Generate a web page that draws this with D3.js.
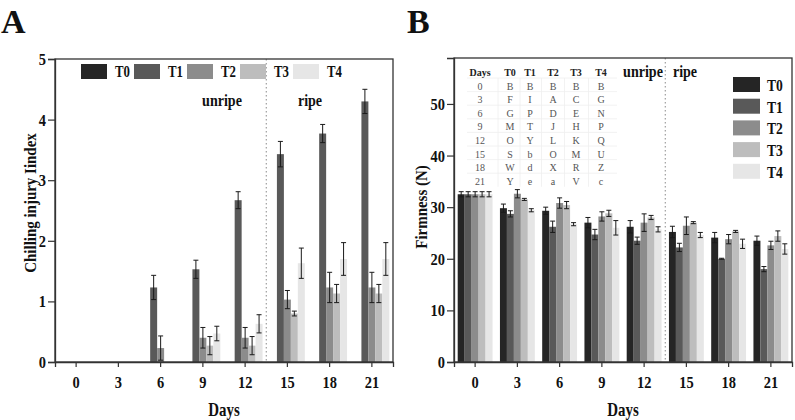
<!doctype html>
<html>
<head>
<style>
	body { margin: 0; background: #fff; }
	text { font-family: "Liberation Serif", "Times New Roman", serif; }
</style>
</head>
<body>
	<div class="figure"></div>
	<script src="https://cdn.jsdelivr.net/npm/d3@7"></script>
	<script>
		// categories
		let days = ["0", "3", "6", "9", "12", "15", "18", "21"];
		let treatments = ["T0", "T1", "T2", "T3", "T4"];
		let colors = ["#252525", "#595959", "#8c8c8c", "#bdbdbd", "#e6e6e6"];

		// A: chilling injury index, means and errors
		let ciT0 = [0, 0, 0, 0, 0, 0, 0, 0];
		let ciT1 = [0, 0, 1.23, 1.53, 2.67, 3.43, 3.77, 4.30];
		let ciT2 = [0, 0, 0.23, 0.40, 0.40, 1.03, 1.23, 1.23];
		let ciT3 = [0, 0, 0, 0.27, 0.27, 0.80, 1.13, 1.13];
		let ciT4 = [0, 0, 0, 0.47, 0.63, 1.63, 1.70, 1.70];
		let ciErrT0 = [0, 0, 0, 0, 0, 0, 0, 0];
		let ciErrT1 = [0, 0, 0.20, 0.15, 0.14, 0.21, 0.15, 0.20];
		let ciErrT2 = [0, 0, 0.20, 0.17, 0.17, 0.15, 0.25, 0.25];
		let ciErrT3 = [0, 0, 0, 0.15, 0.15, 0.04, 0.15, 0.15];
		let ciErrT4 = [0, 0, 0, 0.12, 0.15, 0.25, 0.27, 0.27];
		let ciTicks = [0, 1, 2, 3, 4, 5];

		// B: firmness (N), means and errors
		let fT0 = [32.5, 29.8, 29.3, 27.0, 26.2, 25.2, 24.1, 23.5];
		let fT1 = [32.5, 28.7, 26.2, 24.7, 23.5, 22.2, 20.0, 18.0];
		let fT2 = [32.5, 32.6, 30.8, 28.2, 27.0, 26.4, 23.8, 22.6];
		let fT3 = [32.5, 31.5, 30.4, 28.8, 28.0, 27.0, 25.3, 24.4];
		let fT4 = [32.5, 29.4, 26.7, 26.0, 25.7, 24.6, 22.9, 21.9];
		let fErrT0 = [0.5, 0.8, 0.7, 1.0, 1.2, 1.1, 1.0, 0.9];
		let fErrT1 = [0.5, 0.6, 1.1, 1.0, 0.7, 0.8, 0.1, 0.5];
		let fErrT2 = [0.5, 0.8, 1.0, 0.9, 1.7, 1.7, 0.9, 0.8];
		let fErrT3 = [0.5, 0.2, 0.7, 0.6, 0.4, 0.2, 0.2, 1.0];
		let fErrT4 = [0.5, 0.3, 0.3, 1.4, 0.5, 0.5, 0.9, 1.0];
		let fTicks = [0, 10, 20, 30, 40, 50];

		// significance letters table in B
		let tableHeader = ["Days", "T0", "T1", "T2", "T3", "T4"];
		let tableRows = [
			["0", "B", "B", "B", "B", "B"],
			["3", "F", "I", "A", "C", "G"],
			["6", "G", "P", "D", "E", "N"],
			["9", "M", "T", "J", "H", "P"],
			["12", "O", "Y", "L", "K", "Q"],
			["15", "S", "b", "O", "M", "U"],
			["18", "W", "d", "X", "R", "Z"],
			["21", "Y", "e", "a", "V", "c"]
		];

		let svg = d3.select(".figure")
			.append("svg")
			.attr("width", 795)
			.attr("height", 420);

		// bold, horizontally squeezed text (the original font is a narrow Times)
		function label(g, x, y, txt, size, sx, anchor, rot) {
			return g.append("text")
				.attr("transform", `translate(${x},${y}) rotate(${rot || 0}) scale(${sx},1)`)
				.attr("text-anchor", anchor || "start")
				.style("font-weight", "bold").style("font-size", size + "px")
				.attr("fill", "#111")
				.text(txt);
		}

		function panel(opt) {
			let x = d3.scaleBand().domain(days).range([opt.left, opt.right]);
			let sub = d3.scaleBand().domain(treatments)
				.range([0, x.bandwidth()]).paddingOuter(0.53).paddingInner(0);
			let y = d3.scaleLinear().domain(opt.yDomain).range([opt.bottom, opt.top]);
			let g = svg.append("g");

			// dotted line between unripe and ripe
			let xs = x("15");
			g.append("line")
				.attr("x1", xs).attr("x2", xs)
				.attr("y1", opt.top).attr("y2", opt.bottom)
				.attr("stroke", "#8a8a8a").attr("stroke-width", 1)
				.attr("stroke-dasharray", "1.5,2.5");

			// bars
			opt.means.forEach((vals, k) => {
				let t = treatments[k];
				g.append("g").selectAll("rect")
					.data(vals.map((v, i) => ({ day: days[i], v: v })))
					.join("rect")
					.attr("x", d => x(d.day) + sub(t))
					.attr("width", sub.bandwidth())
					.attr("y", d => y(d.v))
					.attr("height", d => y(0) - y(d.v))
					.attr("fill", colors[k]);
			});

			// error bars
			opt.means.forEach((vals, k) => {
				let t = treatments[k];
				let errs = opt.errs[k];
				let data = vals.map((v, i) => ({ day: days[i], v: v, e: errs[i] })).filter(d => d.e > 0);
				let eg = g.append("g").attr("stroke", "#1a1a1a").attr("stroke-width", 1);
				let cx = d => x(d.day) + sub(t) + sub.bandwidth() / 2;
				eg.selectAll(".v").data(data).join("line")
					.attr("x1", cx).attr("x2", cx)
					.attr("y1", d => y(d.v - d.e)).attr("y2", d => y(d.v + d.e));
				eg.selectAll(".t").data(data).join("line")
					.attr("x1", d => cx(d) - 2.5).attr("x2", d => cx(d) + 2.5)
					.attr("y1", d => y(d.v + d.e)).attr("y2", d => y(d.v + d.e));
				eg.selectAll(".b").data(data).join("line")
					.attr("x1", d => cx(d) - 2.5).attr("x2", d => cx(d) + 2.5)
					.attr("y1", d => y(d.v - d.e)).attr("y2", d => y(d.v - d.e));
			});

			// frame
			g.append("rect")
				.attr("x", opt.left).attr("y", opt.top)
				.attr("width", opt.right - opt.left).attr("height", opt.bottom - opt.top)
				.attr("fill", "none").attr("stroke", "#333").attr("stroke-width", 1.3);

			// axes
			let xAxis = g.append("g")
				.attr("transform", `translate(0,${opt.bottom})`)
				.call(d3.axisBottom(x).tickSizeOuter(0).tickSize(5).tickPadding(9));
			let yAxis = g.append("g")
				.attr("transform", `translate(${opt.left},0)`)
				.call(d3.axisLeft(y).tickValues(opt.ticks).tickFormat(d3.format("d"))
					.tickSizeOuter(0).tickSize(7).tickPadding(2));
			[xAxis, yAxis].forEach(a => {
				a.select(".domain").attr("stroke", "#333").attr("stroke-width", 1.3);
				a.selectAll(".tick line").attr("stroke", "#333").attr("stroke-width", 1.2);
				a.selectAll("text")
					.style("font-family", "'Liberation Serif', serif")
					.style("font-weight", "bold")
					.style("font-size", "17px")
					.attr("fill", "#111")
					.attr("transform", "scale(0.85,1)");
			});
			yAxis.selectAll("text").attr("x", -9 / 0.85);

			// axis titles
			label(g, (opt.left + opt.right) / 2, 416, "Days", 18, 0.83, "middle");
			label(g, opt.yLabelX, opt.yLabelY, opt.yLabel, 17, 0.88, "middle", -90);

			// panel letter
			label(g, opt.letterX, 33, opt.letter, 34, 1);

			// unripe / ripe
			label(g, opt.unripeX, opt.stageY, "unripe", 16, 0.88, "middle");
			label(g, opt.ripeX, opt.stageY, "ripe", 16, 0.88, "middle");

			return { g: g, x: x, y: y };
		}

		// ----- Panel A -----
		let A = panel({
			left: 55, right: 393, top: 59, bottom: 362,
			yDomain: [0, 5], ticks: ciTicks,
			means: [ciT0, ciT1, ciT2, ciT3, ciT4],
			errs: [ciErrT0, ciErrT1, ciErrT2, ciErrT3, ciErrT4],
			yLabel: "Chilling injury Iindex", yLabelX: 36, yLabelY: 203,
			letter: "A", letterX: 1,
			unripeX: 222, ripeX: 310, stageY: 106
		});

		// horizontal legend in A
		let legA = A.g.append("g").selectAll("g").data(treatments).join("g")
			.attr("transform", (d, i) => `translate(${81 + i * 53},64)`);
		legA.append("rect").attr("width", 26).attr("height", 15)
			.attr("fill", (d, i) => colors[i]);
		legA.each(function (d) { label(d3.select(this), 34, 13, d, 16, 0.8); });

		// ----- Panel B -----
		let B = panel({
			left: 454, right: 792, top: 58, bottom: 362,
			yDomain: [0, 58.9], ticks: fTicks,
			means: [fT0, fT1, fT2, fT3, fT4],
			errs: [fErrT0, fErrT1, fErrT2, fErrT3, fErrT4],
			yLabel: "Firmness (N)", yLabelX: 427, yLabelY: 207,
			letter: "B", letterX: 407,
			unripeX: 643, ripeX: 685, stageY: 77
		});

		// vertical legend in B
		let legB = B.g.append("g").selectAll("g").data(treatments).join("g")
			.attr("transform", (d, i) => `translate(733,${77 + i * 21.7})`);
		legB.append("rect").attr("width", 27).attr("height", 15)
			.attr("fill", (d, i) => colors[i]);
		legB.each(function (d) { label(d3.select(this), 34, 14, d, 17, 0.8); });

		// letters table in B
		let colX = [480, 510, 530, 553, 576, 601];
		let rowY0 = 73, rowStep = 13.6;
		let tab = B.g.append("g");
		tableRows.forEach((r, i) => {
			tab.append("line")
				.attr("x1", 467).attr("x2", 617)
				.attr("y1", rowY0 + 5 + i * rowStep).attr("y2", rowY0 + 5 + i * rowStep)
				.attr("stroke", "#efefef").attr("stroke-width", 0.8);
		});
		colX.forEach((cx, j) => {
			if (j === 0) return;
			let xx = (colX[j - 1] + cx) / 2 + (j === 1 ? 3 : 0);
			tab.append("line")
				.attr("x1", xx).attr("x2", xx)
				.attr("y1", rowY0 + 5).attr("y2", rowY0 + 5 + 8 * rowStep)
				.attr("stroke", "#efefef").attr("stroke-width", 0.8);
		});
		tab.selectAll(".hd").data(tableHeader).join("text")
			.attr("x", (d, j) => colX[j]).attr("y", rowY0 + 3)
			.attr("text-anchor", "middle")
			.style("font-weight", "bold").style("font-size", "10px")
			.attr("fill", "#222")
			.text(d => d);
		tableRows.forEach((r, i) => {
			tab.append("g").selectAll("text").data(r).join("text")
				.attr("x", (d, j) => colX[j]).attr("y", rowY0 + 3 + (i + 1) * rowStep)
				.attr("text-anchor", "middle")
				.style("font-size", "10px")
				.attr("fill", "#555")
				.text(d => d);
		});
	</script>
</body>
</html>
